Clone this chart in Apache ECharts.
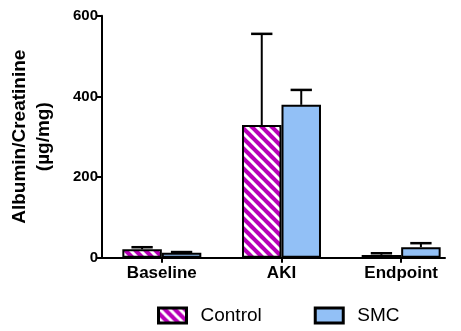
<!DOCTYPE html>
<html>
<head>
<meta charset="utf-8">
<script src="https://cdn.jsdelivr.net/npm/echarts@6/dist/echarts.min.js"></script>
<style>html,body{margin:0;padding:0;background:#fff;}#c{width:461px;height:331px;}</style>
</head>
<body>
<div id="c"></div>
<script>
// ---- data ----
const categories = ['Baseline', 'AKI', 'Endpoint'];
const controlValues = [21, 329, 7];
const controlErr = [5, 226, 4];
const smcValues = [12, 379, 26];
const smcErr = [2, 37, 10];
const yTicks = [0, 200, 400, 600];
const seriesNames = ['Control', 'SMC'];

// ---- styles ----
const MAGENTA = '#B800B8';
const BLUE = '#92C0F6';
const FONT = '"Liberation Sans", Arial, sans-serif';
const BAR_FRAC = 0.33;

function makeHatch() {
  const s = 10;
  const cv = document.createElement('canvas');
  cv.width = s; cv.height = s;
  const ctx = cv.getContext('2d');
  ctx.fillStyle = MAGENTA;
  ctx.fillRect(0, 0, s, s);
  ctx.strokeStyle = '#fff';
  ctx.lineWidth = 3;
  ctx.beginPath();
  ctx.moveTo(-2, -2); ctx.lineTo(s + 2, s + 2);
  ctx.moveTo(-2 - s, -2); ctx.lineTo(2, s + 2);
  ctx.moveTo(s - 2, -2); ctx.lineTo(2 * s + 2, s + 2);
  ctx.stroke();
  return cv;
}
const hatch = { image: makeHatch(), repeat: 'repeat' };

const chart = echarts.init(document.getElementById('c'), null, { renderer: 'canvas' });

function errSeries(name, values, errs, side) {
  return {
    type: 'custom',
    name: name + ' err',
    xAxisIndex: 0, yAxisIndex: 0,
    data: values.map((v, i) => [i, v, v + errs[i]]),
    renderItem: function (params, api) {
      const band = api.size([1, 0])[0];
      const off = side * band * BAR_FRAC / 2;
      const p0 = api.coord([api.value(0), api.value(1)]);
      const p1 = api.coord([api.value(0), api.value(2)]);
      const cx = p0[0] + off;
      const capHalf = band * BAR_FRAC * 0.27;
      return {
        type: 'group',
        children: [
          { type: 'line', shape: { x1: cx, y1: p0[1], x2: cx, y2: p1[1] }, style: { stroke: '#000', lineWidth: 2 } },
          { type: 'line', shape: { x1: cx - capHalf, y1: p1[1], x2: cx + capHalf, y2: p1[1] }, style: { stroke: '#000', lineWidth: 2.5 } }
        ]
      };
    },
    z: 1
  };
}

const option = {
  animation: false,
  backgroundColor: '#fff',
  grid: [
    { left: 100.5, width: 363, top: 15.7, bottom: 73.3 },
    { left: 100, width: 345, top: 15.7, bottom: 73.3 }
  ],
  legend: {
    data: [
      { name: seriesNames[0], itemStyle: { color: hatch, borderColor: '#000', borderWidth: 3 } },
      { name: seriesNames[1], itemStyle: { color: BLUE, borderColor: '#000', borderWidth: 3 } }
    ],
    left: 157, top: 306, padding: 0,
    icon: 'rect',
    itemWidth: 28, itemHeight: 15,
    itemGap: 52,
    textStyle: { fontFamily: FONT, fontSize: 19, color: '#000', padding: [0, 0, 0, 9] }
  },
  xAxis: [
    {
      type: 'category', gridIndex: 0, data: categories,
      axisLine: { show: false },
      axisTick: { show: true, alignWithLabel: true, length: 5, lineStyle: { color: '#000', width: 2 } },
      axisLabel: { fontFamily: FONT, fontWeight: 'bold', fontSize: 17, color: '#000', margin: 7 }
    },
    {
      type: 'value', gridIndex: 1, min: 0, max: 1,
      axisLine: { show: true, lineStyle: { color: '#000', width: 2 } },
      axisTick: { show: false }, axisLabel: { show: false }, splitLine: { show: false }
    }
  ],
  yAxis: [
    {
      type: 'value', gridIndex: 0, min: yTicks[0], max: yTicks[yTicks.length - 1], interval: yTicks[1] - yTicks[0],
      axisLine: { show: true, lineStyle: { color: '#000', width: 2 } },
      axisTick: { show: true, length: 5, lineStyle: { color: '#000', width: 2 } },
      axisLabel: { fontFamily: FONT, fontWeight: 'bold', fontSize: 15, color: '#000', margin: 4 },
      splitLine: { show: false },
      name: 'Albumin/Creatinine\n(µg/mg)',
      nameLocation: 'middle', nameRotate: 90, nameGap: 46,
      nameTextStyle: { fontFamily: FONT, fontWeight: 'bold', fontSize: 19, color: '#000', lineHeight: 24, align: 'center' }
    },
    { type: 'value', gridIndex: 1, show: false }
  ],
  series: [
    {
      type: 'bar', name: seriesNames[0], data: controlValues,
      barWidth: (BAR_FRAC * 100) + '%', barGap: '0%',
      itemStyle: { color: hatch, borderColor: '#000', borderWidth: 2 }, z: 2
    },
    {
      type: 'bar', name: seriesNames[1], data: smcValues,
      barWidth: (BAR_FRAC * 100) + '%', barGap: '0%',
      itemStyle: { color: BLUE, borderColor: '#000', borderWidth: 2 }, z: 2
    },
    errSeries(seriesNames[0], controlValues, controlErr, -1),
    errSeries(seriesNames[1], smcValues, smcErr, 1)
  ]
};
chart.setOption(option);
</script>
</body>
</html>
